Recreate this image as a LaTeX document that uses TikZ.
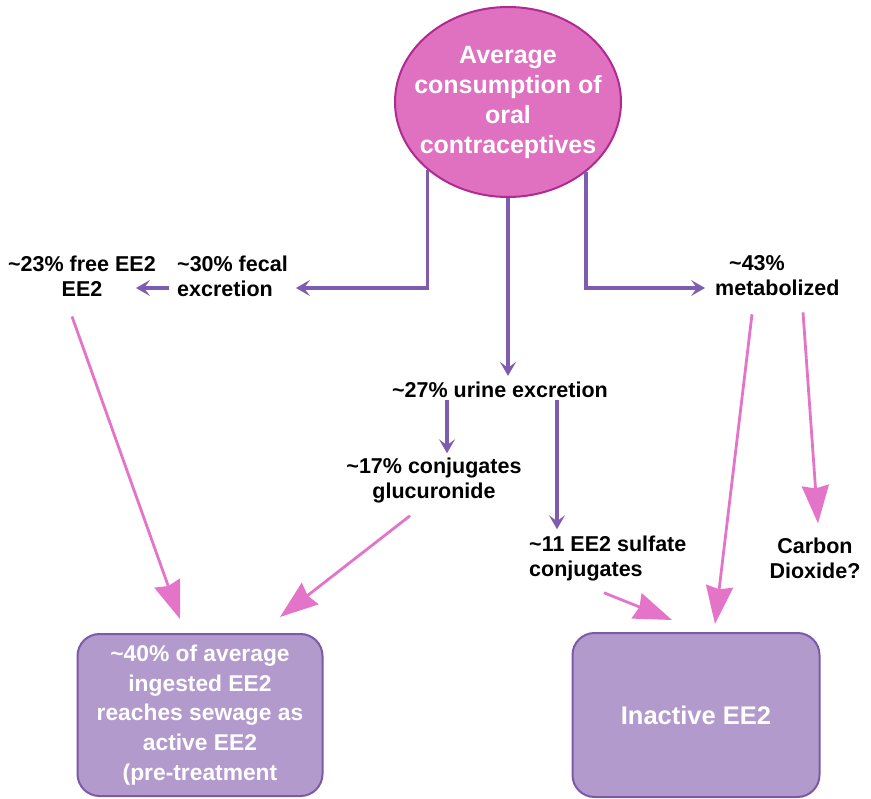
\documentclass[tikz,border=0pt]{standalone}
\usepackage{fontspec}
\setmainfont{Liberation Sans}
\usepackage{tikz}
\usetikzlibrary{shapes.geometric}
\usetikzlibrary{arrows.meta}
\tikzset{>={Stealth[width=16pt,length=14pt,inset=6pt]}}
\definecolor{blobfill}{HTML}{E070C0}
\definecolor{blobline}{HTML}{B02A90}
\definecolor{flowc}{HTML}{7E5CB0}
\definecolor{feedc}{HTML}{E474C8}
\definecolor{sinkfill}{HTML}{B39ACD}
\definecolor{sinkline}{HTML}{7C5AA8}

\begin{document}
\begin{tikzpicture}[
    x = 1pt, y = -1pt,
    lbl/.style = {inner sep=2pt, font=\fontsize{21.5}{25}\selectfont\bfseries},
    blob/.style = {ellipse, draw=blobline, line width=2pt, fill=blobfill,
        minimum width=226pt, minimum height=190pt, inner sep=0pt},
    blobtxt/.style = {align=center, text=white, inner sep=0pt,
        font=\fontsize{25}{30}\selectfont\bfseries},
    sink/.style = {draw=sinkline, line width=2pt, fill=sinkfill, rounded corners=22pt,
        minimum width=245pt, minimum height=162pt, align=center, text=white,
        font=\fontsize{22.8}{29.7}\selectfont\bfseries},
    flow/.style = {->, draw=flowc, line width=3.4pt},
    feed/.style = {-{Stealth[length=38pt,width=27pt,inset=3pt]}, draw=feedc, fill=feedc, line width=2.8pt}
  ]
  \useasboundingbox (0,0) rectangle (871,799);

  \node[blob] (avg) at (508,102) {};
  \node[blobtxt] (avgtxt) at (avg.center) {Average\\consumption of\\oral\\contraceptives};

  \node[lbl, align=center] (free) at (82,276) {\textasciitilde23\% free EE2\\EE2};
  \node[lbl, align=left, anchor=west] (fecal) at (175,276) {\textasciitilde30\% fecal\\excretion};
  \node[lbl, align=left, anchor=west] (metab) at (713,276) {\hspace*{14pt}\textasciitilde43\%\\metabolized};
  \node[lbl] (urine) at (500,390) {\textasciitilde27\% urine excretion};
  \node[lbl, align=center] (gluc) at (434,480) {\textasciitilde17\% conjugates\\glucuronide};
  \node[lbl, align=left, anchor=west] (sulf) at (527,558) {\textasciitilde11 EE2 sulfate\\conjugates};
  \node[lbl, align=center] (co2) at (815,558) {Carbon\\Dioxide?};

  \node[sink] (active) at (200,715) {\textasciitilde40\% of average\\ingested EE2\\reaches sewage as\\active EE2\\(pre-treatment};
  \node[sink, minimum width=247pt, minimum height=164pt, font=\fontsize{25.5}{29}\selectfont\bfseries] (inactive) at (696,715) {Inactive EE2};

  % excretion and metabolism
  \draw[flow] (avg.220) |- ([xshift=6pt,yshift=-12pt]fecal.east);
  \draw[flow] ([xshift=-6pt,yshift=-12pt]fecal.west) -- ([xshift=-22pt,yshift=-12pt]free.east);
  \draw[flow] (avg.318) |- ([xshift=-8pt,yshift=-12pt]metab.west);
  \draw[flow] (avg.south) -- ([yshift=4pt]avg.south |- urine.north);
  \draw[flow] ([xshift=13pt]gluc.north |- urine.south) -- ([xshift=13pt,yshift=2pt]gluc.north);
  \draw[flow] ([xshift=30pt]sulf.north west |- urine.south) -- ([xshift=30pt,yshift=4pt]sulf.north west);

  % where the EE2 ends up
  \draw[feed] ([xshift=-10pt,yshift=-18pt]free.south) -- ([xshift=-20pt,yshift=14pt]active.north);
  \draw[feed] ([xshift=-24pt,yshift=-11pt]gluc.south) -- ([xshift=80pt,yshift=16pt]active.north);
  \draw[feed] ([xshift=77pt,yshift=-10pt]sulf.south west) -- ([xshift=-24pt,yshift=12pt]inactive.north);
  \draw[feed] ([xshift=39pt,yshift=-16pt]metab.south west) -- ([xshift=19pt,yshift=8pt]inactive.north);
  \draw[feed] ([xshift=90pt,yshift=-14pt]metab.south west) -- ([xshift=3pt,yshift=12pt]co2.north);
\end{tikzpicture}
\end{document}
